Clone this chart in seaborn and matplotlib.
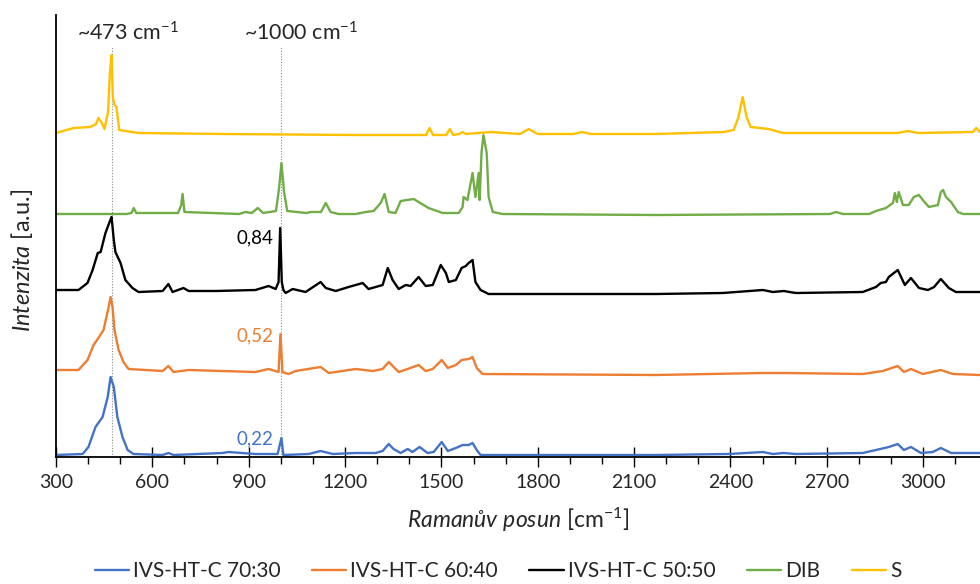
import matplotlib
matplotlib.use("Agg")
import matplotlib.pyplot as plt
import seaborn as sns
import pandas as pd
from matplotlib.ticker import MultipleLocator

# ---------------- data (Raman shift [cm-1], stacked intensity [a.u.]) ----------------
s_wn = [300, 355, 407, 425, 432, 441, 451, 462, 468, 473, 477, 482, 488, 492, 497, 557, 819, 1233,
        1452, 1463, 1474, 1515, 1526, 1537, 1556, 1566, 1576, 1653, 1745, 1772, 1800, 1910, 1937, 1965,
        2167, 2380, 2410, 2425, 2438, 2450, 2463, 2519, 2563, 2675, 2920, 2952, 2985, 3155, 3165, 3177]
s_int = [324, 329, 330, 333, 339, 335, 328, 345, 385, 402, 360, 352, 350, 340, 327, 324, 323, 322,
         322, 329, 322, 322, 328, 322, 323, 325, 323, 325, 323, 328, 323, 323, 325, 323,
         323, 325, 327, 340, 360, 340, 330, 328, 324, 324, 324, 326, 324, 325, 329, 325]

dib_wn = [300, 400, 520, 535, 542, 550, 680, 690, 694, 700, 870, 890, 910, 928, 945, 985, 995, 1002,
          1010, 1020, 1080, 1093, 1125, 1140, 1155, 1180, 1233, 1264, 1289, 1311, 1323, 1336, 1357,
          1373, 1414, 1429, 1460, 1504, 1554, 1566, 1569, 1581, 1597, 1606, 1616, 1619, 1625, 1631,
          1641, 1647, 1660, 1691, 2168, 2710, 2729, 2750, 2832, 2853, 2884, 2906, 2912, 2918, 2924,
          2937, 2955, 2971, 2987, 2999, 3018, 3046, 3055, 3062, 3071, 3087, 3108, 3124, 3177]
dib_int = [243, 243, 243, 244, 249, 244, 244, 252, 263, 245, 243, 245, 244, 249, 244, 246, 270, 294,
           265, 246, 244, 245, 245, 254, 245, 243, 243, 245, 246, 254, 263, 245, 244,
           256, 258, 255, 249, 244, 244, 250, 260, 257, 284, 260, 284, 257, 305, 322,
           304, 260, 245, 243, 242, 243, 245, 243, 243, 246, 249, 254, 264, 255, 265,
           252, 252, 260, 262, 257, 250, 252, 265, 267, 260, 255, 245, 243, 243]

c50_wn = [300, 370, 398, 414, 430, 439, 454, 468, 473, 480, 485, 501, 516, 538, 557, 632, 650, 663,
          697, 713, 797, 921, 962, 984, 993, 998, 1003, 1008, 1015, 1037, 1077, 1124, 1140, 1171,
          1211, 1233, 1255, 1273, 1295, 1317, 1333, 1348, 1367, 1389, 1404, 1429, 1451, 1473, 1498,
          1514, 1523, 1545, 1563, 1576, 1585, 1597, 1606, 1622, 1647, 2168, 2376, 2501, 2532, 2566,
          2603, 2812, 2853, 2868, 2884, 2893, 2921, 2943, 2962, 2987, 3015, 3034, 3055, 3080, 3102, 3177]
c50_int = [167, 167, 174, 187, 204, 205, 224, 236, 240, 217, 205, 194, 177, 169, 165, 166, 173, 165,
           169, 166, 166, 167, 171, 168, 175, 229, 175, 167, 164, 168, 165, 175, 169, 166,
           170, 172, 174, 168, 170, 172, 189, 177, 168, 172, 171, 180, 171, 172, 192,
           184, 175, 177, 189, 191, 194, 197, 175, 167, 163, 163, 164, 167, 165, 166,
           164, 165, 170, 174, 175, 180, 187, 172, 179, 169, 167, 170, 178, 169, 165, 165]

c60_wn = [300, 370, 398, 417, 432, 448, 464, 470, 476, 482, 495, 510, 526, 632, 650, 666, 713, 921,
          962, 993, 999, 1005, 1024, 1046, 1124, 1149, 1233, 1286, 1317, 1336, 1367, 1395, 1429,
          1451, 1473, 1501, 1520, 1545, 1563, 1585, 1597, 1610, 1628, 2168, 2501, 2566, 2812, 2874,
          2921, 2940, 2962, 2999, 3055, 3093, 3177]
c60_int = [87, 87, 97, 112, 119, 127, 150, 160, 150, 127, 107, 95, 88, 86, 91, 85, 87, 85,
           88, 85, 123, 85, 83, 86, 90, 84, 88, 86, 88, 95, 85, 88, 92,
           86, 88, 97, 89, 92, 97, 98, 100, 89, 83, 82, 84, 84, 83, 86,
           91, 85, 88, 83, 87, 83, 82]

c70_wn = [300, 383, 401, 423, 445, 461, 470, 480, 491, 507, 523, 541, 632, 650, 666, 819, 837, 921,
          990, 1002, 1008, 1087, 1124, 1162, 1233, 1295, 1317, 1336, 1351, 1373, 1395, 1410, 1432,
          1457, 1476, 1501, 1520, 1545, 1566, 1585, 1597, 1610, 1622, 2168, 2395, 2501, 2532, 2566,
          2603, 2812, 2853, 2893, 2921, 2940, 2962, 2993, 3030, 3055, 3087, 3177]
c70_int = [2, 3, 10, 30, 40, 60, 80, 70, 40, 20, 7, 3, 2, 4, 2, 4, 5, 3,
           3, 19, 2, 3, 6, 3, 4, 4, 6, 13, 8, 4, 8, 5, 10,
           4, 5, 15, 6, 9, 12, 12, 14, 7, 2, 2, 3, 5, 3, 4,
           3, 4, 7, 10, 13, 7, 10, 4, 5, 9, 4, 4]

series_names = ["IVS-HT-C 70:30", "IVS-HT-C 60:40", "IVS-HT-C 50:50", "DIB", "S"]
series_colors = ["#4472C4", "#ED7D31", "#000000", "#70AD47", "#FFC000"]
series_wn = [c70_wn, c60_wn, c50_wn, dib_wn, s_wn]
series_int = [c70_int, c60_int, c50_int, dib_int, s_int]

ratio_labels = ["0,22", "0,52", "0,84"]
ratio_y = [18, 121, 219]
ratio_colors = ["#4472C4", "#ED7D31", "#000000"]

marker_wn = [473, 1000]
marker_labels = [r"~473 cm$^{-1}$", r"~1000 cm$^{-1}$"]

x_ticks = list(range(300, 3001, 300))

# ---------------- plotting ----------------
sns.set_style("white")
plt.rcParams["font.family"] = ["Lato", "DejaVu Sans"]
plt.rcParams["mathtext.fontset"] = "custom"
plt.rcParams["mathtext.rm"] = "Lato"
plt.rcParams["mathtext.it"] = "Lato:italic"

fig = plt.figure(figsize=(9.8, 5.84), dpi=100)
ax = fig.add_axes([56 / 980, 127 / 584, 924 / 980, 442 / 584])

for name, wn, inten, col in zip(series_names, series_wn, series_int, series_colors):
    df = pd.DataFrame({"wn": wn, "I": inten})
    sns.lineplot(data=df, x="wn", y="I", color=col, lw=1.7, ax=ax,
                 sort=False, estimator=None, label=name)

ax.vlines(marker_wn, 0, 410, colors="#8c8c8c", linestyles=(0, (1, 1.5)), lw=0.8, zorder=0)
for wn, lab, dx in zip(marker_wn, marker_labels, [50, 62]):
    ax.text(wn + dx, 424, lab, ha="center", va="center", fontsize=15.5)

for lab, y, col in zip(ratio_labels, ratio_y, ratio_colors):
    ax.text(977, y, lab, ha="right", va="center", fontsize=13.5, color=col)

ax.set_xlim(300, 3177)
ax.set_ylim(0, 442)
ax.set_xticks(x_ticks)
ax.xaxis.set_minor_locator(MultipleLocator(100))
ax.set_yticks([])
ax.set_xlabel("")
ax.set_ylabel("")
ax.tick_params(axis="x", which="major", direction="inout", length=14, width=1,
               color="black", labelsize=14, pad=5, bottom=True)
ax.tick_params(axis="x", which="minor", direction="out", length=5, width=1,
               color="black", bottom=True)
for side in ["top", "right"]:
    ax.spines[side].set_visible(False)
for side in ["left", "bottom"]:
    ax.spines[side].set_color("black")
    ax.spines[side].set_linewidth(1.3)

fig.text(22 / 980, 1 - 260 / 584, r"$\mathit{Intenzita}$ [a.u.]", rotation=90,
         ha="center", va="center", fontsize=17)
fig.text(518 / 980, 1 - 520 / 584, r"$\mathit{Ramanův\ posun}$ [cm$^{-1}$]",
         ha="center", va="center", fontsize=16.5)

handles, labels = ax.get_legend_handles_labels()
ax.get_legend().remove()
fig.legend(handles, labels, loc="center", bbox_to_anchor=(498 / 980, 1 - 571 / 584),
           ncol=5, frameon=False, fontsize=15, handlelength=1.65, handletextpad=0.2,
           columnspacing=1.5, borderpad=0.1)

fig.savefig("out.png", dpi=100)
